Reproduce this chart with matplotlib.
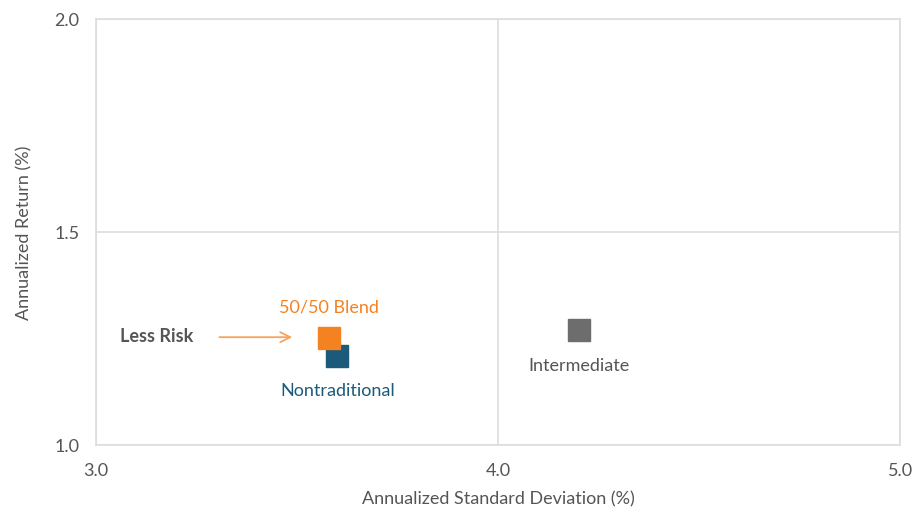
import matplotlib
matplotlib.use("Agg")
import matplotlib.pyplot as plt

names = ["Intermediate", "Nontraditional", "50/50 Blend"]
std_dev = [4.20, 3.60, 3.58]
returns = [1.27, 1.21, 1.25]
colors = ["#6d6d6d", "#1b5a7a", "#f58220"]
x_ticks = [3.0, 4.0, 5.0]
y_ticks = [1.0, 1.5, 2.0]

plt.rcParams['font.family'] = ['Lato', 'DejaVu Sans']
fig = plt.figure(figsize=(9.14, 5.10), dpi=100)
ax = fig.add_axes([0.105, 0.1255, 0.880, 0.8355])

for x, y, c in zip(std_dev, returns, colors):
    ax.plot(x, y, marker='s', markersize=15.5, color=c, linestyle='none', zorder=3)

ax.set_xlim(3.0, 5.0)
ax.set_ylim(1.0, 2.0)
ax.set_xticks(x_ticks)
ax.set_yticks(y_ticks)
ax.set_xticklabels([f"{v:.1f}" for v in x_ticks])
ax.set_yticklabels([f"{v:.1f}" for v in y_ticks])
ax.tick_params(length=0, labelsize=13, colors="#555555", pad=12)
ax.grid(True, color="#dddddd", linewidth=1.2)
for s in ax.spines.values():
    s.set_color("#dddddd")
    s.set_linewidth(1.2)

ax.set_xlabel("Annualized Standard Deviation (%)", fontsize=13, color="#555555", labelpad=9)
ax.set_ylabel("Annualized Return (%)", fontsize=13, color="#555555", labelpad=16)

ax.text(3.58, 1.324, "50/50 Blend", color="#f58220", fontsize=13, ha='center', va='center')
ax.text(3.60, 1.129, "Nontraditional", color="#1b5a7a", fontsize=13, ha='center', va='center')
ax.text(4.20, 1.188, "Intermediate", color="#555555", fontsize=13, ha='center', va='center')
ax.text(3.06, 1.256, "Less Risk", color="#555555", fontsize=13, fontweight='bold', ha='left', va='center')
ax.annotate("", xy=(3.495, 1.253), xytext=(3.30, 1.253),
            arrowprops=dict(arrowstyle='->', color="#f7a35c", lw=1.3, mutation_scale=18))

fig.savefig("out.png", dpi=100)
